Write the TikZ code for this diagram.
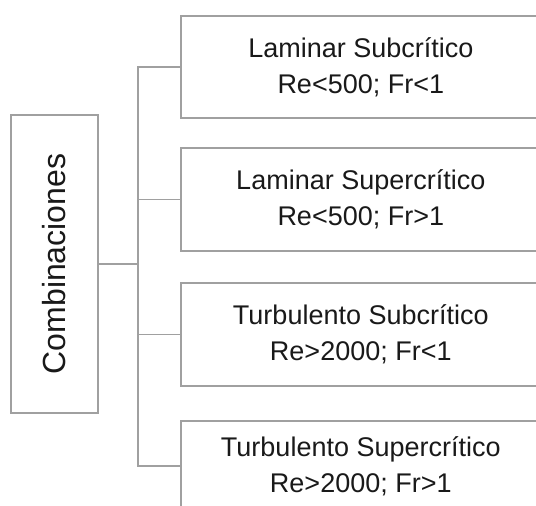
\documentclass[tikz,border=0pt]{standalone}
\usepackage{fontspec}
\setmainfont{Liberation Sans}
\definecolor{linegray}{RGB}{160,160,160}
\definecolor{txt}{RGB}{25,25,25}
\begin{document}
\begin{tikzpicture}[x=1pt,y=-1pt,
  box/.style={draw=linegray, line width=1.6pt, rectangle, minimum width=360pt,
    anchor=north west, inner sep=0pt, align=center, text=txt,
    font=\fontsize{27}{36}\selectfont},
  mainbox/.style={draw=linegray, line width=1.6pt, rectangle, minimum width=87pt,
    minimum height=298pt, inner sep=0pt, text=txt, font=\fontsize{32}{38}\selectfont},
  conn/.style={draw=linegray, line width=1.6pt}]
\useasboundingbox (0,0) rectangle (536,506);
\clip (0,0) rectangle (536,506);
\node[mainbox] (comb) at (54.5,264) {\rotatebox{90}{Combinaciones}};
\node[box, minimum height=102pt] (b1) at (180,15) {Laminar Subcrítico\\Re<500; Fr<1};
\node[box, minimum height=103pt] (b2) at (180,147) {Laminar Supercrítico\\Re<500; Fr>1};
\node[box, minimum height=103pt] (b3) at (180,282) {Turbulento Subcrítico\\Re>2000; Fr<1};
\node[box, minimum height=90pt] (b4) at (180,420) {Turbulento Supercrítico\\Re>2000; Fr>1};
\coordinate (j) at (138,264);
\draw[conn] (comb.east) -- (j);
\draw[conn] (j) |- (b1.west);
\draw[conn] (j) |- (b2.west);
\draw[conn] (j) |- (b3.west);
\draw[conn] (j) |- (b4.west);
\end{tikzpicture}
\end{document}
